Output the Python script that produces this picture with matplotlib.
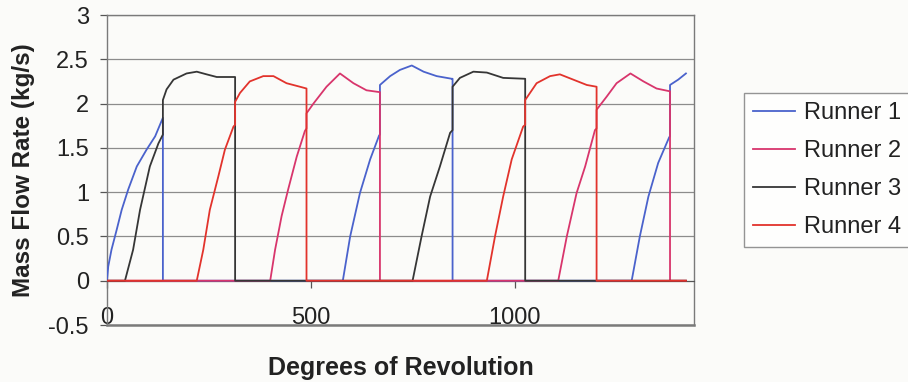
import matplotlib.pyplot as plt

plt.rcParams['font.family'] = ['Liberation Sans', 'DejaVu Sans']

# crank angle (deg) and mass flow rate (kg/s) for each intake runner
r1_deg = [0, 3, 11, 24, 36, 52, 73, 97, 118, 137, 137, 578, 596, 620, 645, 667, 669, 669,
          694, 718, 747, 776, 808, 845, 847, 847, 1286, 1306, 1327, 1351, 1378, 1380, 1380,
          1400, 1419]
r1_flow = [0, 0.16, 0.35, 0.58, 0.80, 1.03, 1.29, 1.48, 1.63, 1.84, 0, 0, 0.5, 0.99, 1.37,
           1.64, 1.65, 2.21, 2.31, 2.38, 2.43, 2.36, 2.31, 2.28, 2.28, 0, 0, 0.5, 0.95, 1.33,
           1.62, 1.63, 2.21, 2.27, 2.34]

r2_deg = [0, 400, 412, 428, 444, 465, 485, 489, 489, 506, 538, 571, 604, 636, 667, 669, 669,
          1106, 1127, 1151, 1172, 1196, 1200, 1200, 1225, 1249, 1283, 1315, 1347, 1378, 1380,
          1380, 1419]
r2_flow = [0, 0, 0.35, 0.73, 1.03, 1.40, 1.69, 1.72, 1.89, 2.00, 2.19, 2.34, 2.23, 2.15, 2.13,
           2.13, 0, 0, 0.5, 0.99, 1.29, 1.70, 1.72, 1.93, 2.08, 2.23, 2.34, 2.25, 2.17, 2.14,
           2.14, 0, 0]

r3_deg = [0, 44, 64, 81, 105, 126, 137, 137, 146, 163, 195, 220, 244, 269, 314, 314, 749, 771,
          792, 816, 841, 847, 847, 865, 898, 931, 971, 1025, 1025, 1419]
r3_flow = [0, 0, 0.35, 0.80, 1.29, 1.55, 1.65, 2.04, 2.16, 2.27, 2.34, 2.36, 2.33, 2.30, 2.30,
           0, 0, 0.5, 0.95, 1.29, 1.67, 1.70, 2.19, 2.29, 2.36, 2.35, 2.29, 2.28, 0, 0]

r4_deg = [0, 220, 236, 252, 273, 289, 310, 314, 314, 326, 350, 383, 408, 440, 473, 489, 489,
          931, 951, 971, 992, 1020, 1025, 1025, 1053, 1086, 1110, 1143, 1176, 1200, 1200, 1419]
r4_flow = [0, 0, 0.35, 0.80, 1.18, 1.48, 1.74, 1.76, 2.02, 2.12, 2.25, 2.31, 2.31, 2.23, 2.19,
           2.17, 0, 0, 0.5, 0.95, 1.37, 1.74, 1.76, 2.04, 2.23, 2.31, 2.33, 2.27, 2.21, 2.19, 0, 0]

labels = ['Runner 1', 'Runner 2', 'Runner 3', 'Runner 4']
colors = ['#4a62cc', '#d8356c', '#363636', '#e2332c']

bg = '#fbfbf9'
fig = plt.figure(figsize=(9.08, 3.82), dpi=100, facecolor=bg)
ax = fig.add_axes([107 / 908, 1 - 325 / 382, (694.5 - 107) / 908, 310 / 382])
ax.set_facecolor(bg)

series = [(r1_deg, r1_flow), (r2_deg, r2_flow), (r3_deg, r3_flow), (r4_deg, r4_flow)]
for (x, y), lab, c in zip(series, labels, colors):
    ax.plot(x, y, color=c, lw=1.3, label=lab, zorder=3)

ax.set_xlim(0, 1440)
ax.set_ylim(-0.5, 3)
ax.set_yticks([-0.5, 0, 0.5, 1, 1.5, 2, 2.5, 3])
ax.set_yticklabels(['-0.5', '0', '0.5', '1', '1.5', '2', '2.5', '3'])
ax.set_xticks([0, 500, 1000])
ax.grid(axis='y', color='#8c8c8c', lw=0.9)

# category axis sits on y = 0, plot area border all round
for s in ['top', 'right', 'left']:
    ax.spines[s].set_color('#7a7a7a')
    ax.spines[s].set_linewidth(1.0)
ax.spines['bottom'].set_position(('data', 0))
ax.spines['bottom'].set_color('#555555')
ax.axhline(-0.5, color='#7a7a7a', lw=1.8, clip_on=False, zorder=4)

ax.tick_params(axis='y', length=5, width=0.9, color='#555555', pad=8,
               labelsize=17, labelcolor='#222222')
ax.tick_params(axis='x', length=5, width=0.9, color='#555555', pad=14,
               labelsize=17, labelcolor='#222222')

ax.set_xlabel('Degrees of Revolution', fontsize=18, fontweight='bold', color='#222222')
ax.xaxis.set_label_coords(0.5, -0.10)
ax.set_ylabel('Mass Flow Rate (kg/s)', fontsize=17.5, fontweight='bold', color='#222222')
ax.yaxis.set_label_coords(-0.122, 0.5)

leg = ax.legend(loc='upper left', bbox_to_anchor=(744 / 908, 1 - 93 / 382),
                bbox_transform=fig.transFigure, fontsize=17, frameon=True,
                fancybox=False, edgecolor='#7a7a7a', facecolor='white', borderaxespad=0,
                handlelength=1.8, handletextpad=0.35, labelspacing=0.68, borderpad=0.38)
leg.get_frame().set_linewidth(1.0)
for t in leg.get_texts():
    t.set_color('#222222')

fig.savefig('out.png', dpi=100, facecolor=bg)
